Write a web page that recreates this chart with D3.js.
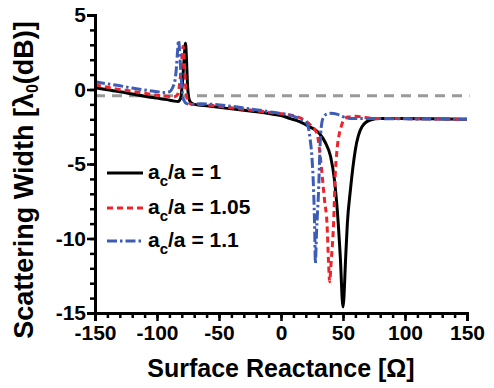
<!DOCTYPE html>
<html><head><meta charset="utf-8">
<script src="https://cdn.jsdelivr.net/npm/d3@7"></script>
<style>body{margin:0;background:#fff}svg{display:block}text{font-family:"Liberation Sans",Arial,sans-serif;font-weight:bold}</style>
</head><body><svg id="c" width="494" height="388"></svg>
<script>
// ---- data ----
const blackX = [-150,-140,-130,-120,-110,-100,-92,-86,-83,-81,-80,-79,-78,-77,-76.2,-75.5,-74.5,-73,-70,-65,-55,-45,-35,-25,-15,-5,0,7.5,15,23,31,36,40,43,45.2,47.8,50,52.2,53.5,55.9,59.9,65.3,72,80,100,120,150];
const blackY = [0.12,-0.02,-0.15,-0.3,-0.45,-0.58,-0.68,-0.78,-0.8,-0.6,0.0,1.0,2.2,3.1,2.0,0.5,-0.5,-0.85,-1.0,-1.05,-1.15,-1.25,-1.35,-1.45,-1.55,-1.68,-1.75,-1.95,-2.15,-2.5,-2.95,-3.6,-4.5,-6.0,-7.9,-11.2,-14.6,-11.2,-9.0,-6.8,-4.07,-2.5,-2.05,-1.95,-1.95,-1.97,-2.0];
const redX = [-150,-140,-130,-120,-110,-100,-92,-87,-84,-82,-81,-80,-79,-78.3,-77.5,-76.5,-75,-72,-65,-55,-45,-35,-25,-15,-5,5,12,18,24,29,31,33,35.2,37.1,38.4,39.2,40.5,42.4,43.8,45,46.5,48.5,50.5,54,60,66,75,90,120,150];
const redY = [0.3,0.15,0.0,-0.12,-0.25,-0.38,-0.45,-0.5,-0.4,0.2,1.0,2.0,2.9,2.5,1.0,-0.2,-0.8,-1.0,-1.0,-1.08,-1.18,-1.28,-1.38,-1.48,-1.58,-1.68,-1.8,-2.0,-2.4,-2.95,-4.0,-5.6,-7.5,-9.0,-11.7,-12.9,-11.5,-9.0,-5.6,-4.2,-3.2,-2.5,-2.05,-1.85,-1.8,-1.85,-1.95,-1.95,-1.97,-2.0];
const blueX = [-150,-140,-130,-120,-110,-100,-95,-90,-87,-85.5,-84.3,-83.4,-82.6,-81.8,-80.8,-79.8,-78.5,-76,-72,-65,-55,-45,-35,-25,-15,-5,5,12,17,20.9,23.6,25,26.3,27.2,27.7,28.7,30.3,31.7,33,34.4,37,40,45,50.5,58,70,100,150];
const blueY = [0.52,0.38,0.25,0.1,-0.03,-0.15,-0.2,-0.15,0.2,0.6,1.5,2.6,3.3,2.6,1.2,0.0,-0.7,-0.95,-1.0,-0.95,-1.0,-1.08,-1.18,-1.3,-1.42,-1.55,-1.68,-1.85,-2.05,-2.28,-3.4,-4.6,-6.8,-9.5,-11.65,-9.5,-6.8,-3.4,-2.2,-1.84,-1.65,-1.6,-1.65,-1.84,-1.95,-1.95,-1.97,-2.0];
const refLevel = -0.42;
const xTicks = [-150,-100,-50,0,50,100,150];
const yTicks = [-15,-10,-5,0,5];
const legendLabels = ["1","1.05","1.1"];

// ---- chart ----
const svg = d3.select("#c");
const L=95, R=467, T=15, B=313;
const x = d3.scaleLinear().domain([-150,150]).range([L,R]);
const y = d3.scaleLinear().domain([-15,5]).range([B,T]);

const series = [
  {xs:blackX, ys:blackY, color:"#000", dash:null},
  {xs:redX, ys:redY, color:"#f0232b", dash:"6,4"},
  {xs:blueX, ys:blueY, color:"#3c5cb6", dash:"10,3,2.5,3"}
];

// reference dashed line
svg.append("line").attr("x1",x(-150)).attr("x2",x(152)).attr("y1",y(refLevel)).attr("y2",y(refLevel))
  .attr("stroke","#999").attr("stroke-width",3).attr("stroke-dasharray","10,7");

const line = d3.line().x(d=>x(d[0])).y(d=>y(d[1])).curve(d3.curveMonotoneX);
series.forEach(s=>{
  const pts = s.xs.map((v,i)=>[v,s.ys[i]]);
  svg.append("path").attr("d",line(pts)).attr("fill","none").attr("stroke",s.color)
    .attr("stroke-width",3).attr("stroke-dasharray",s.dash).attr("stroke-linejoin","round");
});

// axes
const fmt = d=>String(d);
const xAxis = d3.axisBottom(x).tickValues(xTicks).tickSize(8).tickPadding(4).tickFormat(fmt);
const xMinor = d3.axisBottom(x).tickValues(d3.range(-150,151,10)).tickSize(5).tickFormat("");
const yAxis = d3.axisLeft(y).tickValues(yTicks).tickSize(8).tickPadding(1).tickFormat(fmt);
const yMinor = d3.axisLeft(y).tickValues(d3.range(-15,6,1)).tickSize(5).tickFormat("");

function style(g){
  g.select(".domain").attr("stroke","#000").attr("stroke-width",3);
  g.selectAll(".tick line").attr("stroke","#000").attr("stroke-width",2.5);
  g.selectAll("text").attr("fill","#000").style("font-size","21px").style("font-weight","bold");
}
svg.append("g").attr("transform",`translate(0,${B})`).call(xMinor).call(style);
svg.append("g").attr("transform",`translate(0,${B})`).call(xAxis).call(style);
svg.append("g").attr("transform",`translate(${L},0)`).call(yMinor).call(style);
svg.append("g").attr("transform",`translate(${L},0)`).call(yAxis).call(style);

// axis titles
svg.append("text").attr("x",281).attr("y",377).attr("text-anchor","middle").style("font-size","25px").text("Surface Reactance [Ω]");
const yt = svg.append("text").attr("transform","translate(33,180) rotate(-90)").attr("text-anchor","middle").style("font-size","27px");
yt.append("tspan").text("Scattering Width [λ");
yt.append("tspan").attr("dy",5).style("font-size","16px").text("0");
yt.append("tspan").attr("dy",-5).text("(dB)]");

// legend
const rows=[173,208,241];
series.forEach((s,i)=>{
  svg.append("line").attr("x1",107).attr("x2",143).attr("y1",rows[i]).attr("y2",rows[i])
    .attr("stroke",s.color).attr("stroke-width",3).attr("stroke-dasharray",s.dash);
  const t = svg.append("text").attr("x",148).attr("y",rows[i]+6).style("font-size","21px");
  t.append("tspan").text("a");
  t.append("tspan").attr("dy",7).style("font-size","15px").text("c");
  t.append("tspan").attr("dy",-7).text("/a = "+legendLabels[i]);
});
</script></body></html>
